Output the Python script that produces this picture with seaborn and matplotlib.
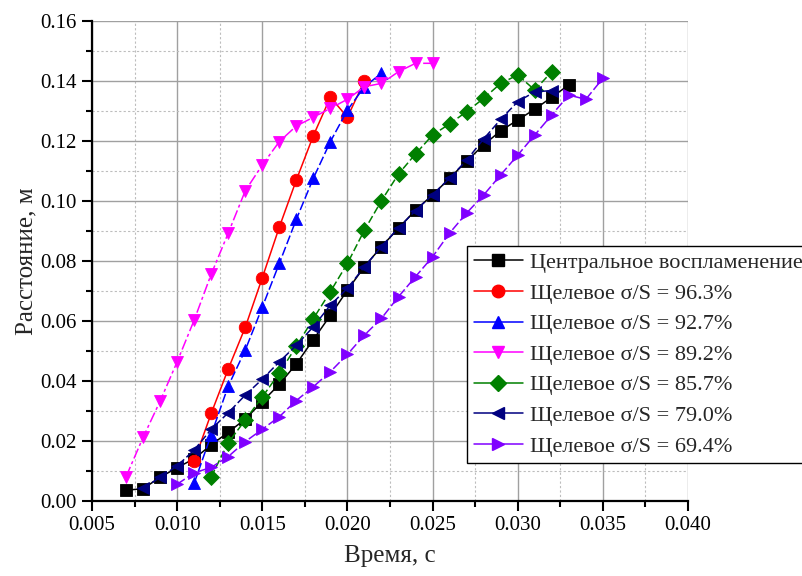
import numpy as np
import pandas as pd
import seaborn as sns
import matplotlib
matplotlib.use("Agg")
import matplotlib.pyplot as plt
from matplotlib.lines import Line2D
from matplotlib.ticker import MultipleLocator, FormatStrFormatter

# Time (s) and flame-front distance (m) for each ignition variant
labels = [
    "Центральное воспламенение",
    "Щелевое σ/S = 96.3%",
    "Щелевое σ/S = 92.7%",
    "Щелевое σ/S = 89.2%",
    "Щелевое σ/S = 85.7%",
    "Щелевое σ/S = 79.0%",
    "Щелевое σ/S = 69.4%",
]

t_central = [0.007, 0.008, 0.009, 0.010, 0.011, 0.012, 0.013, 0.014, 0.015, 0.016,
             0.017, 0.018, 0.019, 0.020, 0.021, 0.022, 0.023, 0.024, 0.025, 0.026,
             0.027, 0.028, 0.029, 0.030, 0.031, 0.032, 0.033]
d_central = [0.0035, 0.0040, 0.0078, 0.0110, 0.0140, 0.0186, 0.0228, 0.0272, 0.0330, 0.0388,
             0.0456, 0.0537, 0.0618, 0.0702, 0.0780, 0.0847, 0.0908, 0.0969, 0.1019, 0.1075,
             0.1132, 0.1186, 0.1233, 0.1269, 0.1305, 0.1345, 0.1386]

t_963 = [0.011, 0.012, 0.013, 0.014, 0.015, 0.016, 0.017, 0.018, 0.019, 0.020, 0.021]
d_963 = [0.0132, 0.0291, 0.0439, 0.0578, 0.0743, 0.0912, 0.1069, 0.1217, 0.1345, 0.1278, 0.1400]

t_927 = [0.011, 0.012, 0.013, 0.014, 0.015, 0.016, 0.017, 0.018, 0.019, 0.020, 0.021, 0.022]
d_927 = [0.0058, 0.0220, 0.0382, 0.0502, 0.0645, 0.0791, 0.0938, 0.1075, 0.1197, 0.1302, 0.1380, 0.1425]

t_892 = [0.007, 0.008, 0.009, 0.010, 0.011, 0.012, 0.013, 0.014, 0.015, 0.016,
         0.017, 0.018, 0.019, 0.020, 0.021, 0.022, 0.023, 0.024, 0.025]
d_892 = [0.0080, 0.0211, 0.0332, 0.0463, 0.0602, 0.0755, 0.0892, 0.1033, 0.1119, 0.1197,
         0.1249, 0.1278, 0.1308, 0.1338, 0.1380, 0.1391, 0.1430, 0.1458, 0.1458]

t_857 = [0.012, 0.013, 0.014, 0.015, 0.016, 0.017, 0.018, 0.019, 0.020, 0.021, 0.022,
         0.023, 0.024, 0.025, 0.026, 0.027, 0.028, 0.029, 0.030, 0.031, 0.032]
d_857 = [0.0080, 0.0193, 0.0269, 0.0346, 0.0425, 0.0515, 0.0607, 0.0697, 0.0791, 0.0902, 0.1000,
         0.1089, 0.1156, 0.1219, 0.1256, 0.1297, 0.1341, 0.1391, 0.1419, 0.1369, 0.1430]

t_790 = [0.008, 0.009, 0.010, 0.011, 0.012, 0.013, 0.014, 0.015, 0.016, 0.017, 0.018, 0.019,
         0.020, 0.021, 0.022, 0.023, 0.024, 0.025, 0.026, 0.027, 0.028, 0.029, 0.030, 0.031, 0.032]
d_790 = [0.0041, 0.0078, 0.0116, 0.0169, 0.0238, 0.0293, 0.0352, 0.0405, 0.0463, 0.0518, 0.0580, 0.0652,
         0.0708, 0.0780, 0.0847, 0.0910, 0.0967, 0.1020, 0.1075, 0.1135, 0.1206, 0.1271, 0.1330, 0.1363, 0.1367]

t_694 = [0.010, 0.011, 0.012, 0.013, 0.014, 0.015, 0.016, 0.017, 0.018, 0.019, 0.020, 0.021, 0.022,
         0.023, 0.024, 0.025, 0.026, 0.027, 0.028, 0.029, 0.030, 0.031, 0.032, 0.033, 0.034, 0.035]
d_694 = [0.0055, 0.0093, 0.0111, 0.0147, 0.0197, 0.0238, 0.0280, 0.0334, 0.0380, 0.0430, 0.0488, 0.0552, 0.0608,
         0.0680, 0.0747, 0.0813, 0.0892, 0.0959, 0.1019, 0.1086, 0.1152, 0.1219, 0.1286, 0.1352, 0.1338, 0.1408]

x_ticks = [0.005, 0.010, 0.015, 0.020, 0.025, 0.030, 0.035, 0.040]
y_ticks = [0.00, 0.02, 0.04, 0.06, 0.08, 0.10, 0.12, 0.14, 0.16]

series_t = [t_central, t_963, t_927, t_892, t_857, t_790, t_694]
series_d = [d_central, d_963, d_927, d_892, d_857, d_790, d_694]

frames = []
for lab, t, d in zip(labels, series_t, series_d):
    frames.append(pd.DataFrame({"t": t, "d": d, "series": lab}))
df = pd.concat(frames, ignore_index=True)

colors = ["#000000", "#ff0000", "#0000ff", "#ff00ff", "#008000", "#000080", "#8000ff"]
markers = ["s", "o", "^", "v", "D", "<", ">"]
msizes = [8, 9, 9, 9, 8, 9, 9]
dash_list = ["", "", (6, 2), (7, 2, 2, 2), (5, 2), (5, 2), (6, 2)]

palette = dict(zip(labels, colors))
marker_map = dict(zip(labels, markers))
dash_map = dict(zip(labels, dash_list))

sns.set_theme(style="white")
plt.rcParams["font.family"] = ["Liberation Serif", "DejaVu Serif"]

fig = plt.figure(figsize=(8.03, 5.76), dpi=100)
ax = fig.add_axes([92 / 803, 1 - 500.7 / 576, (688 - 92) / 803, (500.7 - 20.7) / 576])

sns.lineplot(data=df, x="t", y="d", hue="series", style="series",
             palette=palette, markers=marker_map, dashes=dash_map,
             estimator=None, sort=False, markersize=9, linewidth=1.1,
             markeredgewidth=0.6, legend=False, ax=ax)

# individual marker sizes per series
for line, ms in zip(ax.get_lines(), msizes):
    line.set_markersize(ms)
    line.set_markeredgecolor(line.get_color())

ax.set_xlim(0.005, 0.040)
ax.set_ylim(0.0, 0.16)
ax.set_xticks(x_ticks)
ax.set_yticks(y_ticks)
ax.xaxis.set_major_formatter(FormatStrFormatter("%.3f"))
ax.yaxis.set_major_formatter(FormatStrFormatter("%.2f"))
ax.xaxis.set_minor_locator(MultipleLocator(0.0025))
ax.yaxis.set_minor_locator(MultipleLocator(0.01))

ax.grid(which="major", color="#a0a0a0", linewidth=1.0, linestyle="-")
ax.grid(which="minor", color="#bdbdbd", linewidth=0.8, linestyle=(0, (2, 2)))
ax.set_axisbelow(True)

for side in ["top", "right"]:
    ax.spines[side].set_visible(False)
for side in ["left", "bottom"]:
    ax.spines[side].set_color("black")
    ax.spines[side].set_linewidth(1.6)

ax.tick_params(which="major", direction="out", length=7, width=1.5, colors="black",
               labelsize=15, left=True, bottom=True, pad=4)
ax.tick_params(which="minor", direction="out", length=4, width=1.5, colors="black",
               left=True, bottom=True)

ax.set_xlabel("Время, с", fontsize=18, labelpad=7)
ax.set_ylabel("Расстояние, м", fontsize=18, labelpad=2)

handles = [Line2D([0], [0], color=c, marker=m, markersize=ms, linewidth=1.1,
                  markeredgecolor=c)
           for c, m, ms in zip(colors, markers, msizes)]
leg = fig.legend(handles, labels, loc="upper left",
                 bbox_to_anchor=(467 / 803, 1 - 246 / 576),
                 fontsize=16, frameon=True, fancybox=False, framealpha=1,
                 edgecolor="black", handlelength=2.2, handletextpad=0.35,
                 borderpad=0.3, labelspacing=0.45, borderaxespad=0)
leg.get_frame().set_linewidth(1.0)

fig.savefig("out.png", dpi=100)
